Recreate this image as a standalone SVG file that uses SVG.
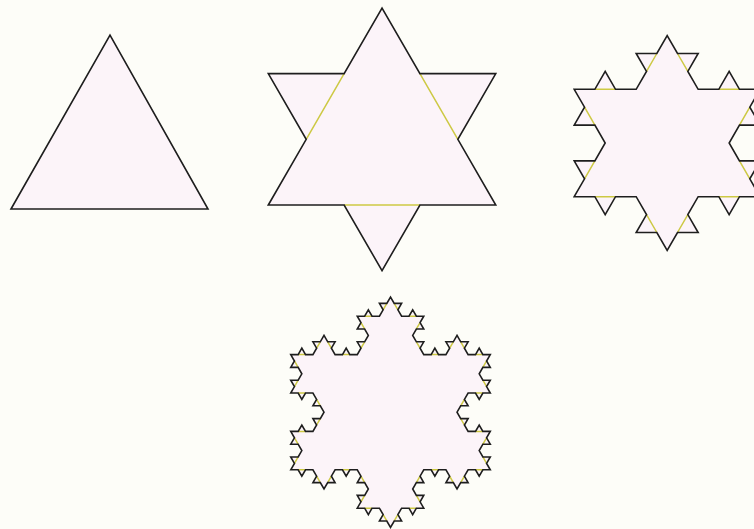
<svg xmlns="http://www.w3.org/2000/svg" xmlns:xlink="http://www.w3.org/1999/xlink" width="754" height="529" viewBox="0 0 754 529">
<style>
.bg{fill:#fdfdf8}
.fill{fill:#fcf4f9;stroke:none}
.line{fill:none;stroke:#1e1e1e;stroke-width:1.6;stroke-linejoin:miter}
.old{fill:none;stroke:#cdc944;stroke-width:1.5}
</style>
<defs>
<path id="k1" vector-effect="non-scaling-stroke" d="M0 0l1-1 -1-1 2 0 1-1 1 1 2 0 -1 1 1 1 -2 0 -1 1 -1-1 -2 0z"/>
<path id="k2" vector-effect="non-scaling-stroke" d="M0 0l1-1 -1-1 2 0 1-1 -1-1 -2 0 1-1 -1-1 2 0 1-1 1 1 2 0 1-1 -1-1 2 0 1-1 1 1 2 0 -1 1 1 1 2 0 1-1 1 1 2 0 -1 1 1 1 -2 0 -1 1 1 1 2 0 -1 1 1 1 -2 0 -1 1 -1-1 -2 0 -1 1 1 1 -2 0 -1 1 -1-1 -2 0 1-1 -1-1 -2 0 -1 1 -1-1 -2 0z"/>
<path id="k3" vector-effect="non-scaling-stroke" d="M0 0l
1-1 -1-1 2 0 1-1 -1-1 -2 0 1-1 -1-1 2 0 1-1 1 1 2 0 1-1 -1-1 2 0 1-1
-1-1 -2 0 1-1 -1-1 -2 0 -1 1 -1-1 -2 0 1-1 -1-1 2 0 1-1 -1-1 -2 0 1-1 -1-1
2 0 1-1 1 1 2 0 1-1 -1-1 2 0 1-1 1 1 2 0 -1 1 1 1 2 0 1-1 1 1 2 0
1-1 -1-1 2 0 1-1 -1-1 -2 0 1-1 -1-1 2 0 1-1 1 1 2 0 1-1 -1-1 2 0 1-1
1 1 2 0 -1 1 1 1 2 0 1-1 1 1 2 0 -1 1 1 1 -2 0 -1 1 1 1 2 0 -1 1 1 1
2 0 1-1 1 1 2 0 1-1 -1-1 2 0 1-1 1 1 2 0 -1 1 1 1 2 0 1-1 1 1 2 0
-1 1 1 1 -2 0 -1 1 1 1 2 0 -1 1 1 1 -2 0 -1 1 -1-1 -2 0 -1 1 1 1 -2 0 -1 1
1 1 2 0 -1 1 1 1 2 0 1-1 1 1 2 0 -1 1 1 1 -2 0 -1 1 1 1 2 0 -1 1 1 1
-2 0 -1 1 -1-1 -2 0 -1 1 1 1 -2 0 -1 1 -1-1 -2 0 1-1 -1-1 -2 0 -1 1 -1-1 -2 0
-1 1 1 1 -2 0 -1 1 1 1 2 0 -1 1 1 1 -2 0 -1 1 -1-1 -2 0 -1 1 1 1 -2 0 -1 1
-1-1 -2 0 1-1 -1-1 -2 0 -1 1 -1-1 -2 0 1-1 -1-1 2 0 1-1 -1-1 -2 0 1-1 -1-1
-2 0 -1 1 -1-1 -2 0 -1 1 1 1 -2 0 -1 1 -1-1 -2 0 1-1 -1-1 -2 0 -1 1 -1-1 -2 0
z"/>
</defs>
<rect class="bg" x="0" y="0" width="754" height="529"/>
<g id="koch-level-0">
<polygon class="fill" points="11,209 110,35 208,209"/>
<polygon class="line" points="11,209 110,35 208,209"/>
</g>
<g id="koch-level-1" transform="translate(268.3,205) scale(37.91,65.67)">
<use xlink:href="#k1" class="fill"/>
<path class="old" vector-effect="non-scaling-stroke" d="M0 0m1-1l1-1m1-1m1 1l1 1m1 1m-2 0l-2 0m-2 0"/>
<use xlink:href="#k1" class="line"/>
</g>
<g id="koch-level-2" transform="translate(574.2,196.7) scale(10.33,17.9)">
<use xlink:href="#k2" class="fill"/>
<path class="old" vector-effect="non-scaling-stroke" d="M0 0m1-1l1-1m1-1m-1-1l-1-1m-1-1m2 0l2 0m2 0m1-1l1-1m1-1m1 1l1 1m1 1m2 0l2 0m2 0m-1 1l-1 1m-1 1m1 1l1 1m1 1m-2 0l-2 0m-2 0m-1 1l-1 1m-1 1m-1-1l-1-1m-1-1m-2 0l-2 0m-2 0"/>
<use xlink:href="#k2" class="line"/>
</g>
<g id="koch-level-3" transform="translate(290.75,469.8) scale(3.695,6.4)">
<use xlink:href="#k3" class="fill"/>
<path class="old" vector-effect="non-scaling-stroke" d="M0 0
m1-1 l1-1 m1-1
m-1-1 l-1-1 m-1-1
m2 0 l2 0 m2 0
m1-1 l1-1 m1-1
m-1-1 l-1-1 m-1-1
m-2 0 l-2 0 m-2 0
m1-1 l1-1 m1-1
m-1-1 l-1-1 m-1-1
m2 0 l2 0 m2 0
m1-1 l1-1 m1-1
m1 1 l1 1 m1 1
m2 0 l2 0 m2 0
m1-1 l1-1 m1-1
m-1-1 l-1-1 m-1-1
m2 0 l2 0 m2 0
m1-1 l1-1 m1-1
m1 1 l1 1 m1 1
m2 0 l2 0 m2 0
m-1 1 l-1 1 m-1 1
m1 1 l1 1 m1 1
m2 0 l2 0 m2 0
m1-1 l1-1 m1-1
m1 1 l1 1 m1 1
m2 0 l2 0 m2 0
m-1 1 l-1 1 m-1 1
m1 1 l1 1 m1 1
m-2 0 l-2 0 m-2 0
m-1 1 l-1 1 m-1 1
m1 1 l1 1 m1 1
m2 0 l2 0 m2 0
m-1 1 l-1 1 m-1 1
m1 1 l1 1 m1 1
m-2 0 l-2 0 m-2 0
m-1 1 l-1 1 m-1 1
m-1-1 l-1-1 m-1-1
m-2 0 l-2 0 m-2 0
m-1 1 l-1 1 m-1 1
m1 1 l1 1 m1 1
m-2 0 l-2 0 m-2 0
m-1 1 l-1 1 m-1 1
m-1-1 l-1-1 m-1-1
m-2 0 l-2 0 m-2 0
m1-1 l1-1 m1-1
m-1-1 l-1-1 m-1-1
m-2 0 l-2 0 m-2 0
m-1 1 l-1 1 m-1 1
m-1-1 l-1-1 m-1-1
m-2 0 l-2 0 m-2 0"/>
<use xlink:href="#k3" class="line"/>
</g>
</svg>
